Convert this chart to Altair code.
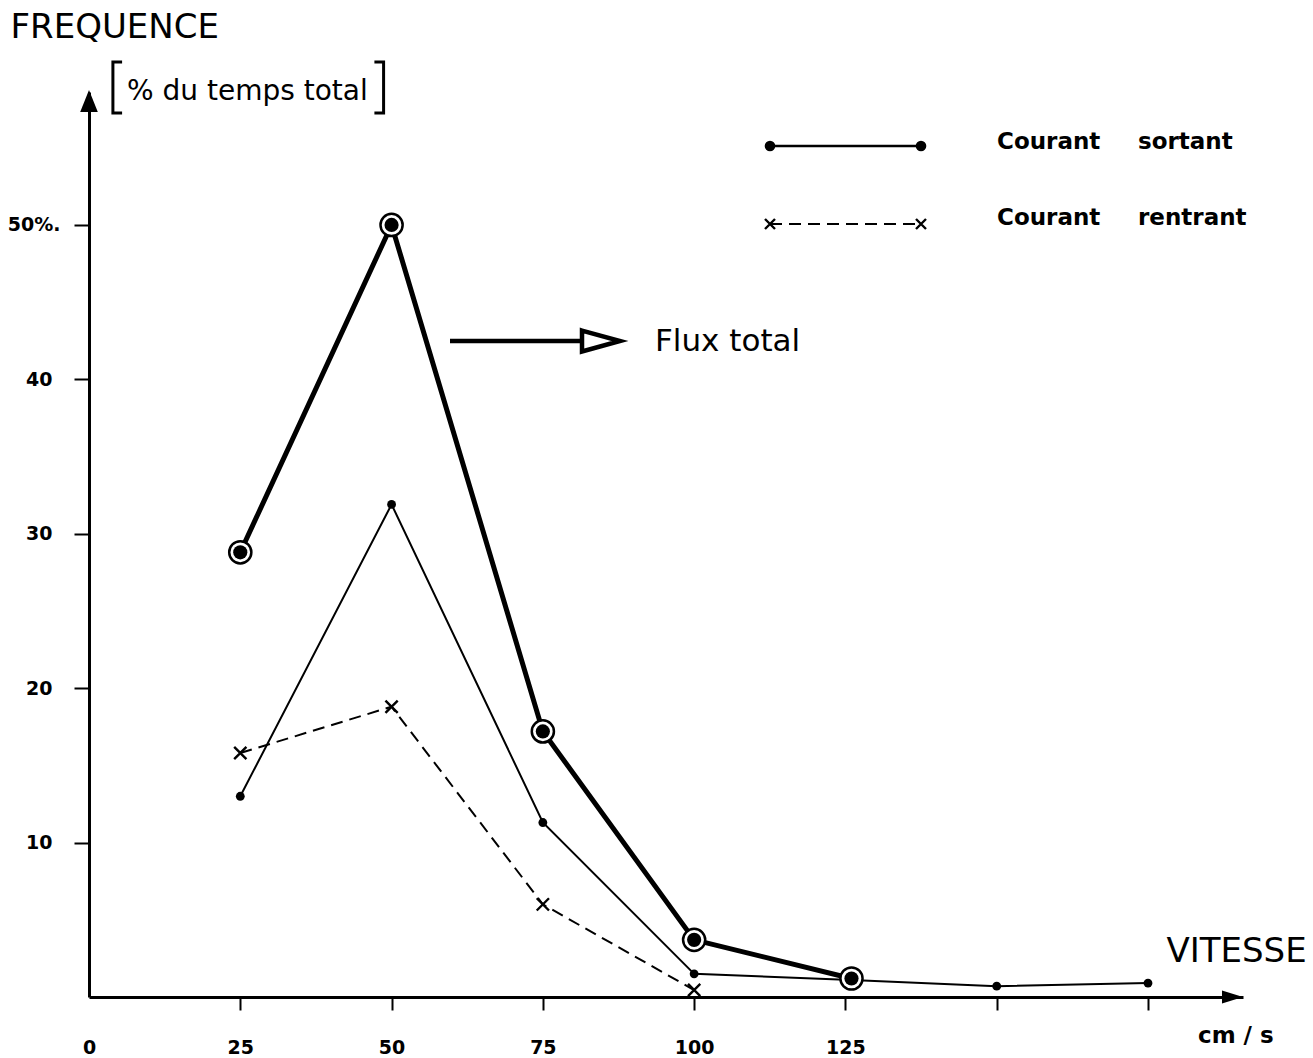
import altair as alt
import pandas as pd

# Vitesse du courant (cm/s) et fréquence (% du temps total)
flux_x = [25, 50, 75, 100, 126]
flux_y = [28.8, 50.0, 17.2, 3.7, 1.2]

sortant_x = [25, 50, 75, 100, 126, 150, 175]
sortant_y = [13.0, 31.9, 11.3, 1.5, 1.1, 0.7, 0.9]

rentrant_x = [25, 50, 75, 100]
rentrant_y = [15.8, 18.8, 6.0, 0.45]

x_ticks = [0, 25, 50, 75, 100, 125, 150, 175]
y_ticks = [10, 20, 30, 40, 50]

FONT = "DejaVu Sans"
INK = "black"

W, H = 1154, 905
x_scale = alt.Scale(domain=[0, 190.7], nice=False, zero=False)
y_scale = alt.Scale(domain=[0, 58.61], nice=False, zero=False)

x_axis = alt.Axis(
    values=x_ticks,
    labelExpr="datum.value <= 125 ? datum.label : ''",
    tickSize=13, tickWidth=2, tickColor=INK,
    tickOpacity={"condition": {"test": "datum.value === 0", "value": 0}, "value": 1},
    domainWidth=3, domainColor=INK,
    labelFont=FONT, labelFontSize=19, labelFontWeight="bold", labelColor=INK,
    labelBaseline="middle", labelPadding=37, labelFlush=False, labelOverlap=False,
    grid=False,
    title="VITESSE", titleFont=FONT, titleFontSize=34, titleFontWeight="normal",
    titleColor=INK, titleX=1077, titleY=-36, titleAlign="left",
    titleBaseline="alphabetic", titleAngle=0,
)
y_axis = alt.Axis(
    values=y_ticks,
    labelExpr="datum.value == 50 ? '50%.' : datum.label",
    tickSize=15, tickWidth=2, tickColor=INK,
    domainWidth=3, domainColor=INK,
    labelFont=FONT, labelColor=INK, labelFontWeight="bold", labelFontSize=19,
    labelPadding={"condition": {"test": "datum.value == 50", "value": 14}, "value": 22},
    labelFlush=False, labelOverlap=False,
    grid=False,
    title="FREQUENCE", titleFont=FONT, titleFontSize=34, titleFontWeight="normal",
    titleColor=INK, titleX=-79, titleY=-55, titleAlign="left",
    titleBaseline="alphabetic", titleAngle=0,
)


def series(xs, ys):
    return alt.Chart(pd.DataFrame({"vitesse": xs, "frequence": ys})).encode(
        x=alt.X("vitesse:Q", scale=x_scale, axis=x_axis),
        y=alt.Y("frequence:Q", scale=y_scale, axis=y_axis),
    )


flux = series(flux_x, flux_y)
sortant = series(sortant_x, sortant_y)
rentrant = series(rentrant_x, rentrant_y)

CROSS = "M -1 -1 L 1 1 M -1 1 L 1 -1"

sortant_line = sortant.mark_line(color=INK, strokeWidth=2)
sortant_dots = sortant.mark_circle(color=INK, size=78, opacity=1)
rentrant_line = rentrant.mark_line(color=INK, strokeWidth=2, strokeDash=[12, 7])
rentrant_marks = rentrant.mark_point(shape=CROSS, stroke=INK, strokeWidth=2.4,
                                     size=150, filled=False, opacity=1)
flux_line = flux.mark_line(color=INK, strokeWidth=5)
flux_rings = flux.mark_point(shape="circle", filled=True, fill="white", stroke=INK,
                             strokeWidth=2.5, size=491, opacity=1)
flux_dots = flux.mark_circle(color=INK, size=201, opacity=1)


def deco():
    return alt.Chart(pd.DataFrame({"_": [0]}))


def label(text, x, y, size, weight="normal"):
    return deco().mark_text(text=text, align="left", baseline="alphabetic", font=FONT,
                            fontSize=size, fontWeight=weight, color=INK).encode(
        x=alt.value(x), y=alt.value(y))


# axis arrowheads
y_arrow = deco().mark_point(shape="M 0 -1 L 0.8 1 L -0.8 1 Z", filled=True, fill=INK,
                            size=484, opacity=1).encode(x=alt.value(0), y=alt.value(9))
x_arrow = deco().mark_point(shape="M 1 0 L -1 -0.62 L -1 0.62 Z", filled=True, fill=INK,
                            size=441, opacity=1).encode(x=alt.value(W - 10.5), y=alt.value(H))

# unit labels
bracket_l = deco().mark_point(shape="M 0.18 -1 L -0.18 -1 L -0.18 1 L 0.18 1", filled=False,
                              stroke=INK, strokeWidth=3, size=2601, opacity=1).encode(
    x=alt.value(28.5), y=alt.value(-4.5))
bracket_r = deco().mark_point(shape="M -0.18 -1 L 0.18 -1 L 0.18 1 L -0.18 1", filled=False,
                              stroke=INK, strokeWidth=3, size=2601, opacity=1).encode(
    x=alt.value(290), y=alt.value(-4.5))
unit_y = label("% du temps total", 38, 8, 28)
unit_x = label("cm / s", 1109, 951, 23, "bold")

# "Flux total" pointer
flux_shaft = deco().mark_rule(color=INK, strokeWidth=4.5).encode(
    x=alt.value(361), x2=alt.value(498), y=alt.value(249))
flux_head = deco().mark_point(shape="M -1 -0.55 L 1 0 L -1 0.55 Z", filled=True, fill="white",
                              stroke=INK, strokeWidth=4.5, size=1444, opacity=1).encode(
    x=alt.value(512), y=alt.value(249))
flux_text = label("Flux total", 566, 259, 31)

# key
key1_line = deco().mark_rule(color=INK, strokeWidth=2.5).encode(
    x=alt.value(681), x2=alt.value(832), y=alt.value(54))
key1_a = deco().mark_circle(color=INK, size=113, opacity=1).encode(x=alt.value(681), y=alt.value(54))
key1_b = deco().mark_circle(color=INK, size=113, opacity=1).encode(x=alt.value(832), y=alt.value(54))
key2_line = deco().mark_rule(color=INK, strokeWidth=2, strokeDash=[12, 7]).encode(
    x=alt.value(681), x2=alt.value(832), y=alt.value(132))
key2_a = deco().mark_point(shape=CROSS, stroke=INK, strokeWidth=2.4, size=100, filled=False,
                           opacity=1).encode(x=alt.value(681), y=alt.value(132))
key2_b = deco().mark_point(shape=CROSS, stroke=INK, strokeWidth=2.4, size=100, filled=False,
                           opacity=1).encode(x=alt.value(832), y=alt.value(132))
key1_t1 = label("Courant", 908, 57, 23, "bold")
key1_t2 = label("sortant", 1049, 57, 23, "bold")
key2_t1 = label("Courant", 908, 133, 23, "bold")
key2_t2 = label("rentrant", 1049, 133, 23, "bold")

chart = alt.layer(
    sortant_line, rentrant_line, flux_line,
    sortant_dots, rentrant_marks, flux_rings, flux_dots,
    y_arrow, x_arrow, bracket_l, bracket_r, unit_y, unit_x,
    flux_shaft, flux_head, flux_text,
    key1_line, key1_a, key1_b, key2_line, key2_a, key2_b,
    key1_t1, key1_t2, key2_t1, key2_t2,
).properties(
    width=W, height=H,
    padding={"left": 89, "top": 92, "right": 70, "bottom": 61},
    autosize=alt.AutoSizeParams(type="none"),
    background="white",
).configure_view(stroke=None)

chart.save("out.html", embed_options={"renderer": "svg", "actions": False})
